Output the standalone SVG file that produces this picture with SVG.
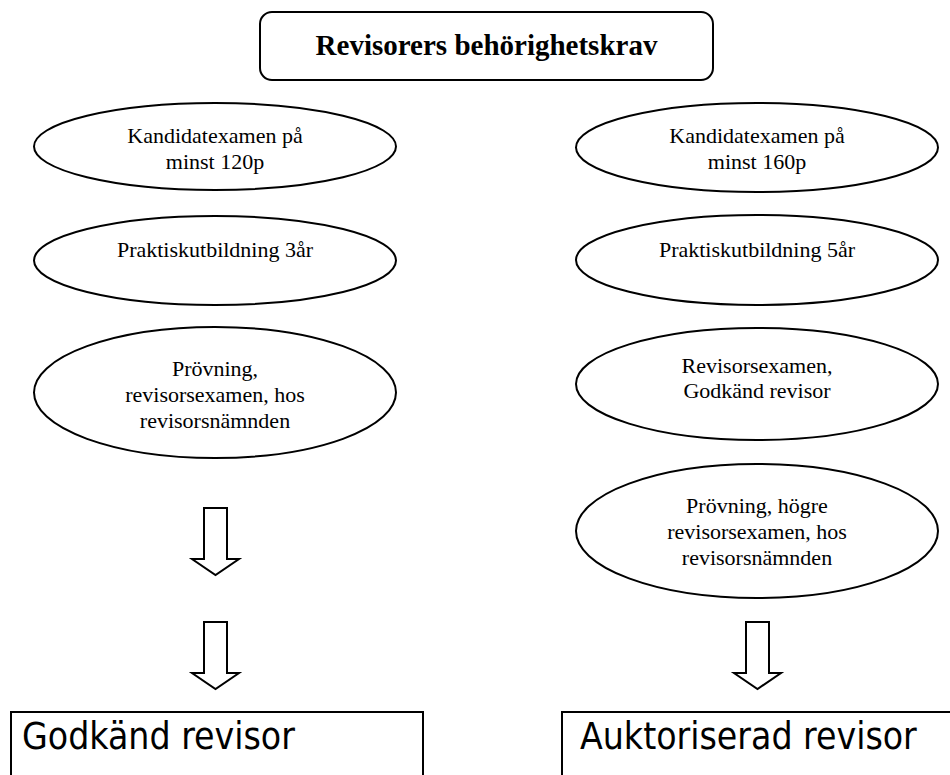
<svg xmlns="http://www.w3.org/2000/svg" width="950" height="775" viewBox="0 0 950 775">
<style>
.sh{fill:#fff;stroke:#000;stroke-width:2}
.t{font-family:"Liberation Serif","Times New Roman",serif;font-size:22px;fill:#000;text-anchor:middle}
.ti{font-family:"Liberation Serif","Times New Roman",serif;font-size:29px;font-weight:bold;fill:#000;text-anchor:middle}
.b{font-family:"DejaVu Sans Condensed","Liberation Sans",sans-serif;font-size:37px;fill:#000}
.ar{fill:#fff;stroke:#000;stroke-width:2;stroke-linejoin:miter}
</style>
<defs>
<path id="arrow" d="M-11.5,0 L11.5,0 L11.5,51 L23.5,51 L0,67 L-23.5,51 L-11.5,51 Z"/>
</defs>
<rect width="950" height="775" fill="#fff"/>
<g id="title">
<rect class="sh" x="260" y="12" width="453" height="68" rx="12"/>
<text class="ti" x="486.5" y="55">Revisorers behörighetskrav</text>
</g>
<g id="l1"><ellipse class="sh" cx="215" cy="146.5" rx="181" ry="43.5"/>
<text class="t" x="215" y="143">Kandidatexamen på</text><text class="t" x="215" y="169">minst 120p</text></g>
<g id="l2"><ellipse class="sh" cx="215" cy="260.5" rx="181" ry="44.5"/>
<text class="t" x="215" y="257">Praktiskutbildning 3år</text></g>
<g id="l3"><ellipse class="sh" cx="215" cy="392.5" rx="181" ry="65.5"/>
<text class="t" x="215" y="376">Prövning,</text><text class="t" x="215" y="402">revisorsexamen, hos</text><text class="t" x="215" y="428">revisorsnämnden</text></g>
<g id="r1"><ellipse class="sh" cx="757" cy="147.5" rx="181" ry="44.5"/>
<text class="t" x="757" y="143">Kandidatexamen på</text><text class="t" x="757" y="169">minst 160p</text></g>
<g id="r2"><ellipse class="sh" cx="757" cy="260" rx="181" ry="45"/>
<text class="t" x="757" y="257">Praktiskutbildning 5år</text></g>
<g id="r3"><ellipse class="sh" cx="757" cy="384" rx="181" ry="56"/>
<text class="t" x="757" y="373">Revisorsexamen,</text><text class="t" x="757" y="398">Godkänd revisor</text></g>
<g id="r4"><ellipse class="sh" cx="757" cy="531" rx="181" ry="67"/>
<text class="t" x="757" y="513">Prövning, högre</text><text class="t" x="757" y="539">revisorsexamen, hos</text><text class="t" x="757" y="565">revisorsnämnden</text></g>
<g id="connectors">
<use href="#arrow" class="ar" transform="translate(215.5,508)"/>
<use href="#arrow" class="ar" transform="translate(215.5,622)"/>
<use href="#arrow" class="ar" transform="translate(757.5,622)"/>
</g>
<g id="godkand">
<rect class="sh" x="11" y="712" width="412" height="100"/>
<text class="b" x="22" y="749">Godkänd revisor</text>
</g>
<g id="auktoriserad">
<rect class="sh" x="562" y="712" width="400" height="100"/>
<text class="b" x="580" y="749">Auktoriserad revisor</text>
</g>
</svg>
